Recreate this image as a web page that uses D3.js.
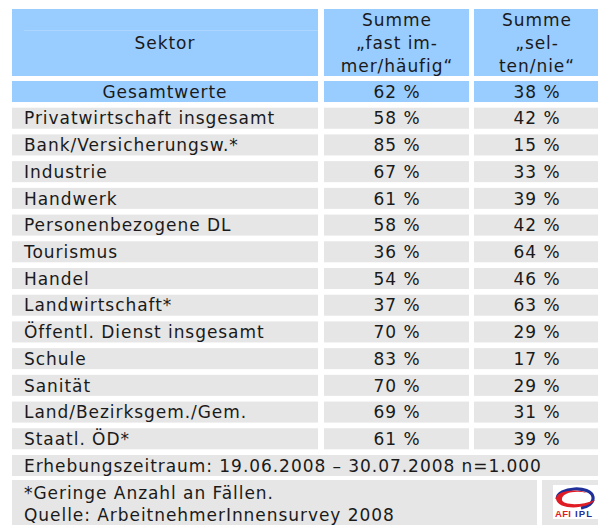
<!DOCTYPE html>
<html>
<head>
<meta charset="utf-8">
<script src="https://cdn.jsdelivr.net/npm/d3@7"></script>
<style>
  body { margin: 0; background: #fff; }
  svg { display: block; font-family: "DejaVu Sans", Verdana, sans-serif; }
  .t { font-size: 17px; letter-spacing: 0.95px; fill: #1a1a1a; }
</style>
</head>
<body>
<svg width="598" height="525"></svg>
<script>
// data
var sectors = ['Gesamtwerte', 'Privatwirtschaft insgesamt', 'Bank/Versicherungsw.*', 'Industrie',
  'Handwerk', 'Personenbezogene DL', 'Tourismus', 'Handel', 'Landwirtschaft*',
  '\u00d6ffentl. Dienst insgesamt', 'Schule', 'Sanit\u00e4t', 'Land/Bezirksgem./Gem.', 'Staatl. \u00d6D*'];
var fastImmer = [62, 58, 85, 67, 61, 58, 36, 54, 37, 70, 83, 70, 69, 61];
var seltenNie = [38, 42, 15, 33, 39, 42, 64, 46, 63, 29, 17, 29, 31, 39];
var headers = [['Sektor'], ['Summe', '\u201efast im-', 'mer/h\u00e4ufig\u201c'], ['Summe', '\u201esel-', 'ten/nie\u201c']];
var period = 'Erhebungszeitraum: 19.06.2008 \u2013 30.07.2008 n=1.000';
var notes = ['*Geringe Anzahl an F\u00e4llen.', 'Quelle: ArbeitnehmerInnensurvey 2008'];

var blue = '#99ccff', grey = '#e6e6e6';

// column edges
var cols = [{x0: 12, x1: 318}, {x0: 324, x1: 469}, {x0: 474, x1: 600}];
var centers = [165, 397, 537];

var rowKeys = sectors.concat(['period']);
var y = d3.scaleBand().domain(rowKeys).range([81, 476]).paddingInner(0.213);

var svg = d3.select('svg');

// header
var head = svg.append('g');
head.selectAll('rect').data(cols).enter().append('rect')
  .attr('x', function(d) { return d.x0; })
  .attr('y', 9)
  .attr('width', function(d) { return d.x1 - d.x0; })
  .attr('height', 67)
  .style('fill', blue);
head.append('line').attr('x1', 24).attr('x2', 318).attr('y1', 30.5).attr('y2', 30.5)
  .style('stroke', '#acd6ff');

headers.forEach(function(lines, i) {
  var t = head.append('text').attr('class', 't').attr('text-anchor', 'middle');
  var lh = 23;
  var top = 42.5 - (lines.length - 1) * lh / 2 + 6;
  t.selectAll('tspan').data(lines).enter().append('tspan')
    .attr('x', centers[i])
    .attr('y', function(d, j) { return top + j * lh; })
    .text(function(d) { return d; });
});

// data rows
var rows = svg.selectAll('g.row').data(sectors).enter().append('g').attr('class', 'row')
  .attr('transform', function(d) { return 'translate(0,' + y(d) + ')'; });

rows.selectAll('rect').data(function(d, i) { return cols.map(function(c) { return {c: c, i: i}; }); })
  .enter().append('rect')
  .attr('x', function(d) { return d.c.x0; })
  .attr('width', function(d) { return d.c.x1 - d.c.x0; })
  .attr('height', y.bandwidth())
  .style('fill', function(d) { return d.i == 0 ? blue : grey; });

var base = y.bandwidth() / 2 + 6.2;

rows.append('text').attr('class', 't')
  .attr('x', function(d, i) { return i == 0 ? centers[0] : 24; })
  .attr('y', base)
  .attr('text-anchor', function(d, i) { return i == 0 ? 'middle' : 'start'; })
  .text(function(d) { return d; });

rows.append('text').attr('class', 't')
  .attr('x', centers[1])
  .attr('y', base)
  .attr('text-anchor', 'middle')
  .text(function(d, i) { return fastImmer[i] + ' %'; });

rows.append('text').attr('class', 't')
  .attr('x', centers[2])
  .attr('y', base)
  .attr('text-anchor', 'middle')
  .text(function(d, i) { return seltenNie[i] + ' %'; });

// survey period row
svg.append('rect').attr('x', 12).attr('y', y('period')).attr('width', 588).attr('height', y.bandwidth())
  .style('fill', grey);
svg.append('text').attr('class', 't').attr('x', 24).attr('y', y('period') + base).text(period);

// notes block + logo cell
svg.append('rect').attr('x', 12).attr('y', 480).attr('width', 525).attr('height', 50).style('fill', grey);
svg.append('rect').attr('x', 542).attr('y', 480).attr('width', 60).attr('height', 50).style('fill', grey);
svg.append('text').attr('class', 't')
  .selectAll('tspan').data(notes).enter().append('tspan')
  .attr('x', 24)
  .attr('y', function(d, i) { return 499 + i * 22; })
  .text(function(d) { return d; });

// logo
var logo = svg.append('g').attr('transform', 'translate(553,485)');
logo.append('rect').attr('width', 45).attr('height', 34).style('fill', '#fff');
// blue upper arc
logo.append('path').attr('d', 'M4,14 C4,2 38,0 40,12 C41,18 34,22 28,23')
  .style('fill', 'none').style('stroke', '#1f2f9a').style('stroke-width', 3.2);
// red crescent
logo.append('path').attr('d', 'M3,14 C2,6 24,3 34,8 C22,5 8,8 9,15 C10,20 28,21 42,15 C36,24 5,26 3,14 Z')
  .style('fill', '#e01c24');
logo.append('text').attr('x', 2).attr('y', 32).attr('textLength', 16).style('font-size', '9.5px').style('font-weight', 'bold')
  .style('font-family', '"Liberation Sans", Arial, sans-serif').style('fill', '#e01c24').text('AFI');
logo.append('text').attr('x', 22).attr('y', 32).attr('textLength', 17).style('font-size', '9.5px').style('font-weight', 'bold')
  .style('font-family', '"Liberation Sans", Arial, sans-serif').style('fill', '#1f2f9a').text('IPL');
</script>
</body>
</html>
